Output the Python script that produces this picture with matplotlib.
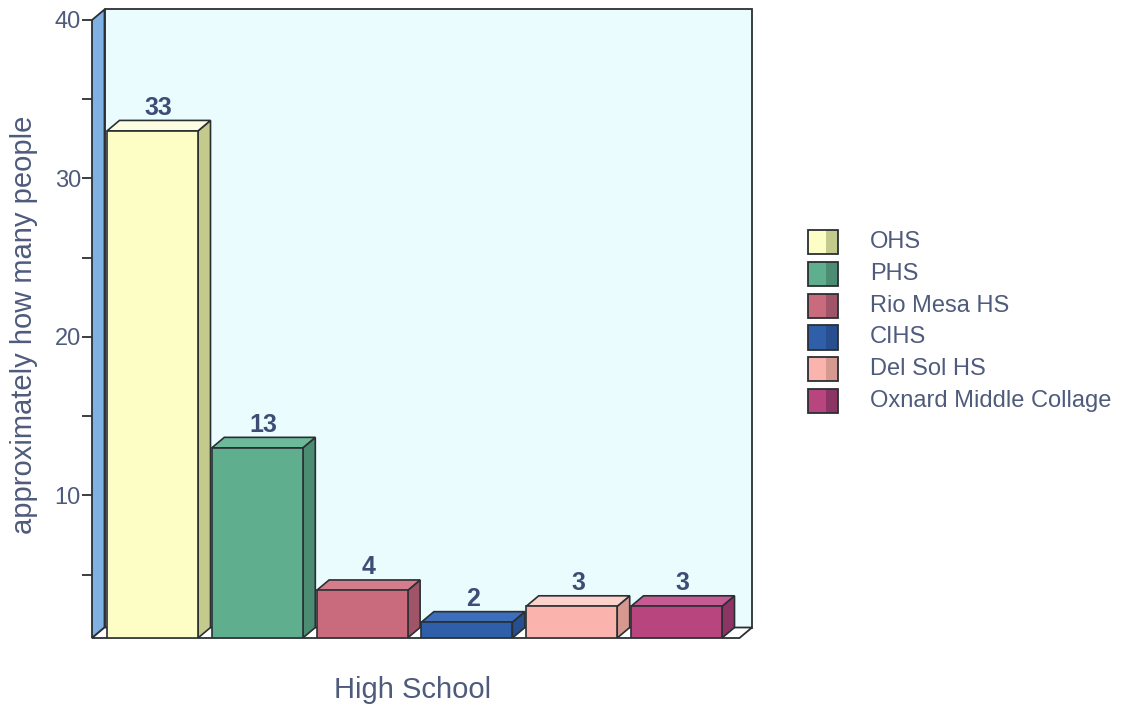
import numpy as np
import matplotlib.pyplot as plt
from matplotlib.patches import Polygon, Rectangle

plt.rcParams['font.family'] = ['Liberation Sans', 'DejaVu Sans']

schools = ["OHS", "PHS", "Rio Mesa HS", "CIHS", "Del Sol HS", "Oxnard Middle Collage"]
people = [33, 13, 4, 2, 3, 3]
front_cols = ["#fdfdc6", "#5fae8e", "#c96b7d", "#2f5fa9", "#fbb4ad", "#b9457f"]
side_cols = ["#c4c98c", "#4b8c72", "#9f5468", "#274f8f", "#d6998f", "#8c3565"]
top_cols = ["#fdfde2", "#6dba9b", "#d47d8c", "#3c6ebb", "#fdd2cd", "#c65a93"]

txt = "#4f5b7c"
edge = "#2a2f33"

fig = plt.figure(figsize=(11.4, 7.1), dpi=100)
W, H = 1140, 710
# axes in pixel terms: front-left x=92, back-right x=752, floor y=638, top y=12
ax = fig.add_axes([92 / W, (H - 638) / H, (752 - 92) / W, (638 - 12) / H])

slot = 104.8  # px per category
upx = (638 - 20) / 39.0  # px per value unit
x0 = (92 - 152.5) / slot
x1 = (752 - 152.5) / slot
ybot = 1
ytop = 1 + (638 - 12) / upx
ax.set_xlim(x0, x1)
ax.set_ylim(ybot, ytop)

dx = 12.5 / slot
dy = 10.5 / upx
bw = 91 / slot

# back wall
ax.add_patch(Polygon([(x0 + dx, ybot + dy), (x1, ybot + dy), (x1, 40 + dy), (x0 + dx, 40 + dy)],
                     closed=True, fc="#eafcfd", ec=edge, lw=1.3, zorder=1, clip_on=False))
# left wall
ax.add_patch(Polygon([(x0, ybot), (x0 + dx, ybot + dy), (x0 + dx, 40 + dy), (x0, 40)],
                     closed=True, fc="#7fb1e2", ec=edge, lw=1.3, zorder=2, clip_on=False))
# floor
ax.add_patch(Polygon([(x0, ybot), (x1 - dx, ybot), (x1, ybot + dy), (x0 + dx, ybot + dy)],
                     closed=True, fc="white", ec=edge, lw=1.3, zorder=2, clip_on=False))

for i, v in enumerate(people):
    l = i - bw / 2
    r = i + bw / 2
    ax.add_patch(Polygon([(r, ybot), (r + dx, ybot + dy), (r + dx, v + dy), (r, v)],
                         closed=True, fc=side_cols[i], ec=edge, lw=1.2, zorder=3))
    ax.add_patch(Polygon([(l, v), (r, v), (r + dx, v + dy), (l + dx, v + dy)],
                         closed=True, fc=top_cols[i], ec=edge, lw=1.2, zorder=3))
    ax.add_patch(Rectangle((l, ybot), bw, v - ybot, fc=front_cols[i], ec=edge, lw=1.2, zorder=4))
    ax.text(i + dx / 2, v + dy + 0.05, str(v), ha="center", va="bottom",
            fontsize=18, fontweight="bold", color="#3e4d75", zorder=5)

for s in ax.spines.values():
    s.set_visible(False)
ax.set_xticks([])
ax.set_yticks([10, 20, 30, 40])
ax.set_yticks([5, 15, 25, 35], minor=True)
ax.tick_params(axis="y", which="major", length=7, width=1.3, color=edge, labelsize=17,
               labelcolor=txt, pad=1)
ax.tick_params(axis="y", which="minor", length=7, width=1.3, color=edge)
ax.set_ylabel("approximately how many people", fontsize=21, color=txt, labelpad=12)
fig.text(413 / W, 1 - 690 / H, "High School", fontsize=21, color=txt, ha="center", va="center")

# legend
row = 31.8
lg = fig.add_axes([800 / W, (H - 216.6 - 6.6 * row) / H, 340 / W, 6.6 * row / H])
lg.set_xlim(0, 340)
lg.set_ylim(6.3, -0.3)
lg.axis("off")
for i, name in enumerate(schools):
    lg.add_patch(Rectangle((8, i + 0.12), 18, 0.76, fc=front_cols[i], ec="none"))
    lg.add_patch(Rectangle((26, i + 0.12), 12, 0.76, fc=side_cols[i], ec="none"))
    lg.add_patch(Rectangle((8, i + 0.12), 30, 0.76, fc="none", ec=edge, lw=1.3))
    lg.text(70, i + 0.5, name, fontsize=17, color=txt, va="center", ha="left")

fig.savefig("out.png", dpi=100, facecolor="white")
